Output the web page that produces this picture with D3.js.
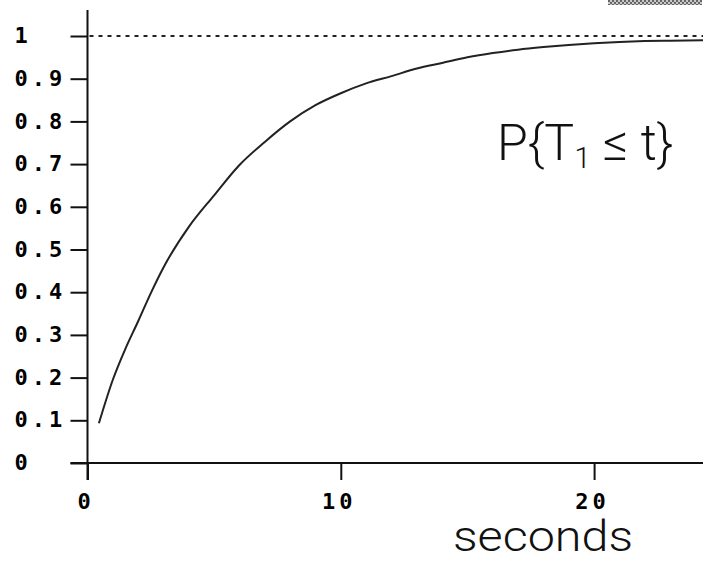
<!DOCTYPE html>
<html>
<head>
<meta charset="utf-8">
<script src="https://cdn.jsdelivr.net/npm/d3@7"></script>
<style>
    body { margin: 0; background: #fff; }
    svg { display: block; }
    .tick text { font-family: "DejaVu Sans Mono", monospace; font-weight: 600; font-size: 22px; letter-spacing: 4px; fill: #000; }
</style>
</head>
<body>
<svg id="chart" width="703" height="563"></svg>
<script>
// time in seconds and probability
const times = [0.45, 1, 1.5, 2, 2.5, 3, 4, 5, 6, 7, 8, 9, 10, 11, 12, 13, 14, 15, 16, 17, 18, 19, 20, 21, 22, 23, 24.3];
const probs = [0.093, 0.195, 0.268, 0.332, 0.398, 0.458, 0.553, 0.627, 0.698, 0.752, 0.800, 0.838, 0.866, 0.889, 0.906, 0.924, 0.937, 0.950, 0.960, 0.968, 0.974, 0.979, 0.983, 0.986, 0.988, 0.989, 0.990];
const yTicks = [0, 0.1, 0.2, 0.3, 0.4, 0.5, 0.6, 0.7, 0.8, 0.9, 1];
const yTickLabels = ["0", "0.1", "0.2", "0.3", "0.4", "0.5", "0.6", "0.7", "0.8", "0.9", "1"];
const xTicks = [0, 10, 20];

const svg = d3.select("#chart");

const x = d3.scaleLinear().domain([0, 24.3]).range([87.5, 703]);
const y = d3.scaleLinear().domain([0, 1]).range([463, 36]);

// grey hatched strip in the top right corner
const defs = svg.append("defs");
const pat = defs.append("pattern").attr("id", "hatch")
    .attr("width", 4).attr("height", 4).attr("patternUnits", "userSpaceOnUse");
pat.append("rect").attr("width", 4).attr("height", 4).attr("fill", "#c8c8c8");
pat.append("rect").attr("width", 2).attr("height", 2).attr("fill", "#666");
pat.append("rect").attr("x", 2).attr("y", 2).attr("width", 2).attr("height", 2).attr("fill", "#666");
svg.append("rect").attr("x", 608).attr("y", 0).attr("width", 94).attr("height", 5).attr("fill", "url(#hatch)");

// dashed line at 1
svg.append("line")
    .attr("x1", x(0) + 2).attr("x2", x(24.3))
    .attr("y1", y(1)).attr("y2", y(1))
    .attr("stroke", "#222").attr("stroke-width", 2)
    .attr("stroke-dasharray", "4,5");

// Y axis
const yAxis = d3.axisLeft(y).tickValues(yTicks).tickSize(17).tickFormat((d, i) => yTickLabels[i]);
const gy = svg.append("g").attr("transform", `translate(${x(0)},0)`).call(yAxis);
gy.select(".domain").remove();
gy.selectAll(".tick line").attr("stroke", "#111").attr("stroke-width", 2);
gy.selectAll(".tick text").attr("x", -73).attr("dy", "0.3em").attr("text-anchor", "start");

// X axis
const xAxis = d3.axisBottom(x).tickValues(xTicks).tickSize(17).tickFormat(d3.format("d"));
const gx = svg.append("g").attr("transform", `translate(0,${y(0)})`).call(xAxis);
gx.select(".domain").remove();
gx.selectAll(".tick line").attr("stroke", "#111").attr("stroke-width", 2);
gx.selectAll(".tick text").attr("y", 30).attr("dx", "-2px").attr("dy", "0.71em");

// axis lines
svg.append("line").attr("x1", x(0)).attr("x2", x(0))
    .attr("y1", 10).attr("y2", y(0) + 17)
    .attr("stroke", "#111").attr("stroke-width", 2);
svg.append("line").attr("x1", x(0) - 17).attr("x2", 703)
    .attr("y1", y(0)).attr("y2", y(0))
    .attr("stroke", "#111").attr("stroke-width", 2);

// curve
const line = d3.line().x(d => x(d[0])).y(d => y(d[1])).curve(d3.curveMonotoneX);
svg.append("path")
    .datum(times.map((t, i) => [t, probs[i]]))
    .attr("d", line)
    .attr("fill", "none")
    .attr("stroke", "#222")
    .attr("stroke-width", 2);

// labels
svg.append("text")
    .attr("x", 453).attr("y", 551)
    .attr("font-family", "Roboto, sans-serif").attr("font-weight", 300)
    .attr("font-size", "42px").attr("fill", "#111")
    .attr("textLength", 180).attr("lengthAdjust", "spacingAndGlyphs")
    .text("seconds");

const lab = svg.append("text")
    .attr("x", 497).attr("y", 160)
    .attr("font-family", "Roboto, sans-serif").attr("font-weight", 300)
    .attr("font-size", "50px").attr("fill", "#111");
lab.append("tspan").text("P{T");
lab.append("tspan").attr("font-size", "30px").attr("dy", 8).text("1");
lab.append("tspan").attr("dy", -8).text(" ≤ t}");
</script>
</body>
</html>
